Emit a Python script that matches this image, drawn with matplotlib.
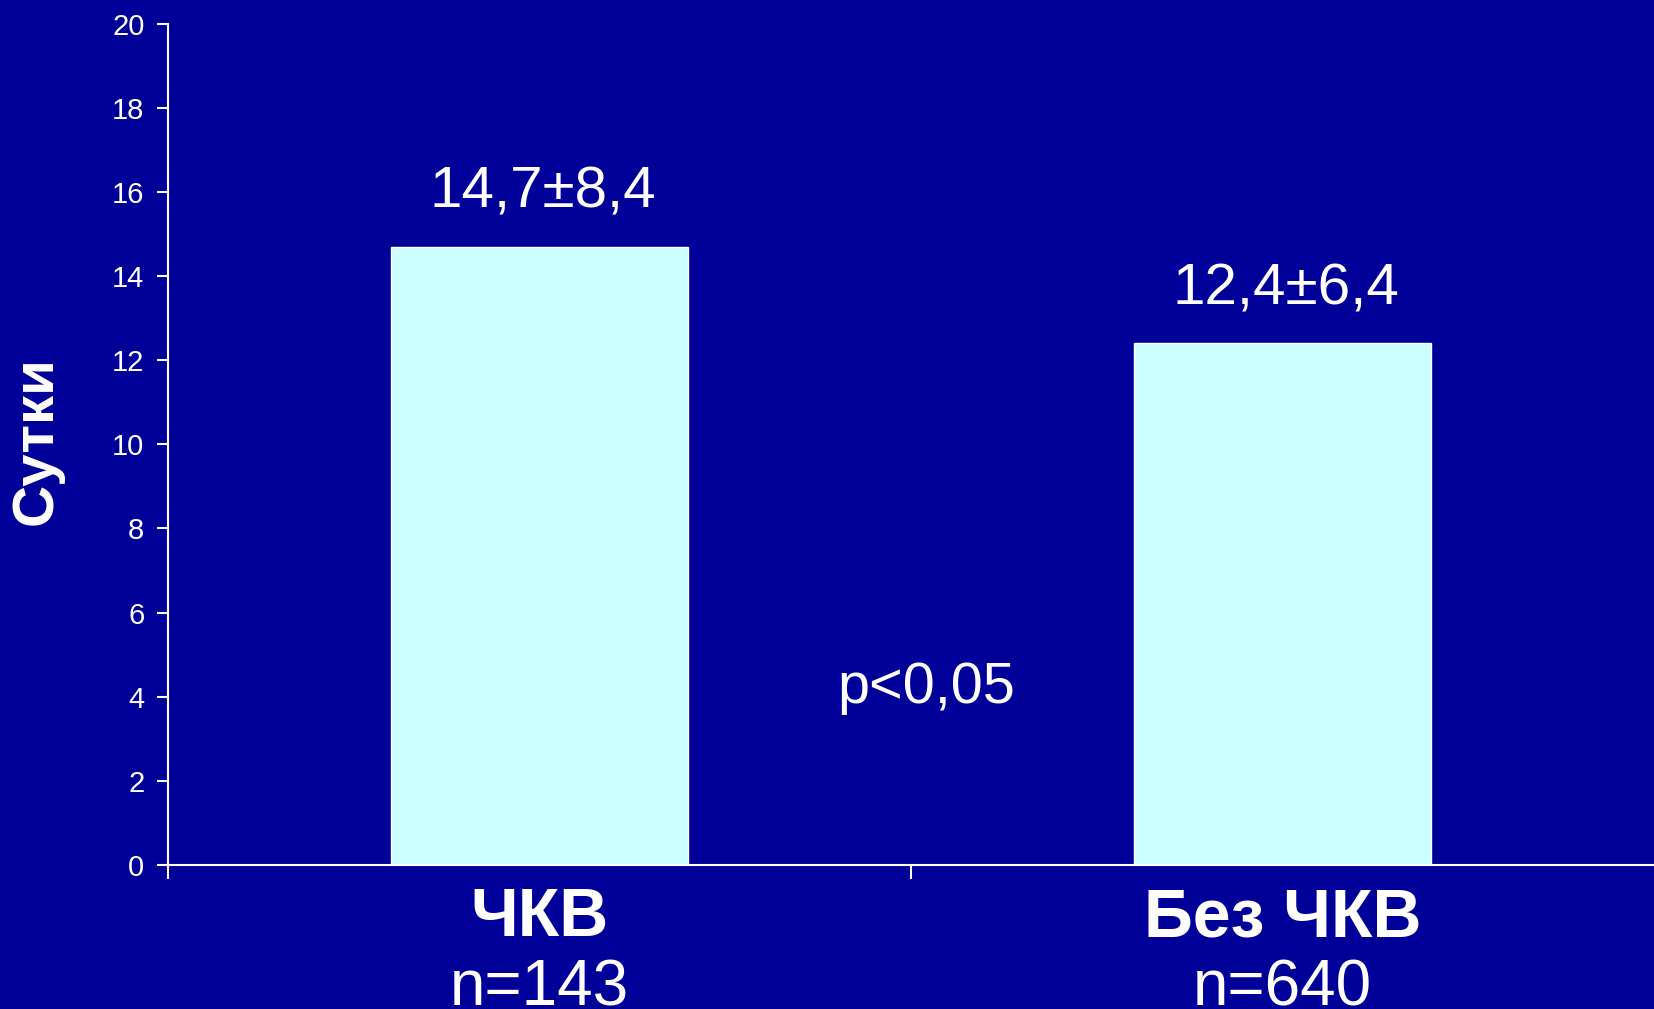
import matplotlib
matplotlib.use("Agg")
import matplotlib.pyplot as plt
from matplotlib.transforms import blended_transform_factory

categories = ["ЧКВ", "Без ЧКВ"]
n_labels = ["n=143", "n=640"]
values = [14.7, 12.4]
value_labels = ["14,7±8,4", "12,4±6,4"]
y_ticks = [0, 2, 4, 6, 8, 10, 12, 14, 16, 18, 20]
y_label = "Сутки"
p_text = "p<0,05"

BG = "#000099"
BAR = "#CCFFFF"
FG = "white"

plt.rcParams['font.family'] = ['Liberation Sans', 'DejaVu Sans']

fig = plt.figure(figsize=(16.54, 10.09), dpi=100, facecolor=BG)
ax = fig.add_axes([168/1654, 1 - 865/1009, 1 - 168/1654, (865 - 23.7)/1009])
ax.set_facecolor(BG)

x = list(range(len(categories)))
ax.bar(x, values, width=0.4, color=BAR, edgecolor="white", linewidth=1.0, zorder=2)

ax.set_xlim(-0.5, 1.5)
ax.set_ylim(0, 20)
ax.set_yticks(y_ticks)
ax.set_yticklabels([str(t) for t in y_ticks])
ax.tick_params(axis='y', colors=FG, labelcolor=FG, labelsize=21, length=8, width=1.5, pad=9)
ax.set_xticks([-0.5, 0.5])
ax.set_xticklabels([])
ax.tick_params(axis='x', colors=FG, length=10, width=1.5)

for s in ['top', 'right']:
    ax.spines[s].set_visible(False)
for s in ['left', 'bottom']:
    ax.spines[s].set_color(FG)
    ax.spines[s].set_linewidth(1.5)
ax.spines['bottom'].set_zorder(3)

for xi, v, lab in zip(x, values, value_labels):
    ax.text(xi + 0.005, v + 0.92, lab, ha='center', va='baseline', color=FG, fontsize=42)

ax.text(0.52, 3.85, p_text, ha='center', va='baseline', color=FG, fontsize=41.5)

trans = blended_transform_factory(ax.transData, ax.transAxes)
for xi, cat, nl in zip(x, categories, n_labels):
    ax.text(xi, -71/841, cat, transform=trans, ha='center', va='baseline',
            color=FG, fontsize=49, fontweight='bold')
    ax.text(xi, -140/841, nl, transform=trans, ha='center', va='baseline',
            color=FG, fontsize=46)

fig.text(37/1654, 1 - 441/1009, y_label, rotation=90, ha='center', va='center',
         color=FG, fontsize=42, fontweight='bold')

fig.savefig("out.png", dpi=100, facecolor=BG)
